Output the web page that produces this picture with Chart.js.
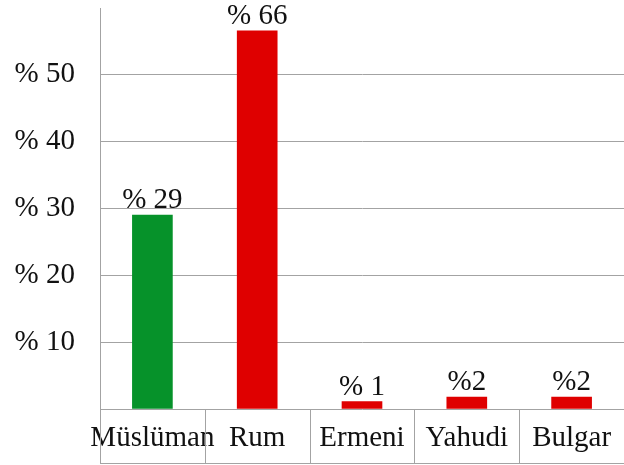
<!DOCTYPE html>
<html>
<head>
<meta charset="utf-8">
<script src="https://cdn.jsdelivr.net/npm/chart.js@4"></script>
<style>
  html, body { margin: 0; padding: 0; background: #fff; }
  #wrap { width: 624px; height: 465px; }
</style>
</head>
<body>
<div id="wrap"><canvas id="myChart"></canvas></div>
<script>
// data
const groups = ['Müslüman', 'Rum', 'Ermeni', 'Yahudi', 'Bulgar'];
const shares = [29, 56.6, 1.1, 1.8, 1.8];
const barLabels = ['% 29', '% 66', '% 1', '%2', '%2'];
const barColors = ['#06922a', '#df0000', '#df0000', '#df0000', '#df0000'];
const yTicks = [10, 20, 30, 40, 50];
const yTickLabels = ['% 10', '% 20', '% 30', '% 40', '% 50'];

const FONT = '"Liberation Serif", "Times New Roman", serif';
const LINE = '#a3a3a3';

// value labels above bars + the table cells under the axis
const tablePlugin = {
    id: 'tablePlugin',
    afterDatasetsDraw(chart) {
        const ctx = chart.ctx;
        const meta = chart.getDatasetMeta(0);
        ctx.save();
        ctx.font = '29px ' + FONT;
        ctx.fillStyle = '#111';
        ctx.textAlign = 'center';
        ctx.textBaseline = 'alphabetic';
        meta.data.forEach((bar, i) => {
            ctx.fillText(barLabels[i], bar.x, bar.y - 7);
        });
        ctx.restore();
    },
    afterDraw(chart) {
        const ctx = chart.ctx;
        const area = chart.chartArea;
        const bottom = area.bottom + 54;
        const w = (area.right - area.left) / groups.length;
        ctx.save();
        ctx.strokeStyle = LINE;
        ctx.lineWidth = 1;
        ctx.beginPath();
        for (let i = 0; i <= groups.length; i++) {
            const px = Math.round(area.left + i * w) + 0.5;
            ctx.moveTo(px, area.bottom);
            ctx.lineTo(px, bottom);
        }
        ctx.moveTo(area.left, bottom + 0.5);
        ctx.lineTo(area.right, bottom + 0.5);
        ctx.stroke();
        ctx.restore();
    }
};

var ctx = document.getElementById('myChart').getContext('2d');

var myChart = new Chart(ctx, {
    type: 'bar',
    data: {
        labels: groups,
        datasets: [{
            data: shares,
            backgroundColor: barColors,
            borderWidth: 0,
            barThickness: 40
        }]
    },
    options: {
        responsive: true,
        maintainAspectRatio: false,
        animation: false,
        layout: { padding: { top: 8, right: 0, left: 0, bottom: 0 } },
        plugins: {
            legend: { display: false },
            tooltip: { enabled: false }
        },
        scales: {
            x: {
                afterFit: (scale) => {
                    scale.height = 56;
                    scale.paddingLeft = 0;
                    scale.paddingRight = 0;
                },
                grid: { display: false, drawTicks: false },
                border: { display: true, color: LINE },
                ticks: {
                    autoSkip: false,
                    padding: 12,
                    color: '#111',
                    font: { family: FONT, size: 29 },
                    maxRotation: 0
                }
            },
            y: {
                min: 0,
                max: 60,
                afterFit: (scale) => {
                    scale.width = 100;
                    scale.paddingTop = 0;
                    scale.paddingBottom = 0;
                },
                grid: {
                    drawTicks: false,
                    color: (c) => yTicks.includes(c.tick.value) ? LINE : 'rgba(0,0,0,0)'
                },
                border: { display: true, color: LINE },
                ticks: {
                    stepSize: 10,
                    padding: 25,
                    color: '#111',
                    font: { family: FONT, size: 29 },
                    callback: (value) => {
                        const i = yTicks.indexOf(value);
                        return i >= 0 ? yTickLabels[i] : '';
                    }
                }
            }
        }
    },
    plugins: [tablePlugin]
});
</script>
</body>
</html>
